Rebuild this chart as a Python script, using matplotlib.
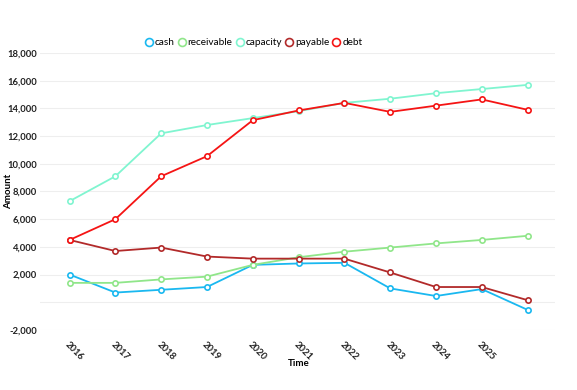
import matplotlib
matplotlib.use("Agg")
import matplotlib.pyplot as plt

years = ["2016", "2017", "2018", "2019", "2020", "2021", "2022", "2023", "2024", "2025", "2026"]
cash = [2000, 700, 900, 1100, 2700, 2800, 2850, 1000, 450, 950, -550]
receivable = [1400, 1400, 1650, 1850, 2700, 3250, 3650, 3950, 4250, 4500, 4800]
capacity = [7300, 9100, 12200, 12800, 13300, 13800, 14400, 14700, 15100, 15400, 15700]
payable = [4500, 3700, 3950, 3300, 3150, 3150, 3150, 2150, 1100, 1100, 150]
debt = [4500, 6000, 9100, 10550, 13150, 13850, 14400, 13750, 14200, 14650, 13900]

series = [("cash", cash, "#1ab8f0"), ("receivable", receivable, "#90e68a"),
          ("capacity", capacity, "#80f5d0"), ("payable", payable, "#b22a2a"),
          ("debt", debt, "#f51414")]

yticks = list(range(-2000, 18001, 2000))
ytick_labels = ["" if v == 0 else f"{v:,}" for v in yticks]

plt.rcParams["font.family"] = ["Lato", "DejaVu Sans"]

fig = plt.figure(figsize=(5.77, 3.9), dpi=100)
ax = fig.add_axes([0.069, 0.154, 0.893, 0.71])

x = list(range(len(years)))
handles = []
for name, vals, col in series:
    h, = ax.plot(x, vals, color=col, lw=1.3, marker="o", ms=3.8,
                 mfc="white", mec=col, mew=1.2, label=name)
    handles.append(h)

ax.set_xlim(-0.65, 10.6)
ax.set_ylim(-2000, 18000)
ax.set_yticks(yticks)
ax.set_yticklabels(ytick_labels, fontsize=6.8, fontweight="bold", color="#222222")
ax.set_xticks(x[:-1])
ax.set_xticklabels(years[:-1], fontsize=6.8, fontweight="bold", color="#222222",
                   rotation=-45, ha="left", va="top", rotation_mode="anchor")
ax.tick_params(length=0, pad=2)
ax.tick_params(axis="x", pad=7)
for s in ax.spines.values():
    s.set_visible(False)
ax.grid(axis="y", color="#eeeeee", lw=0.8)
ax.set_axisbelow(True)

ax.set_ylabel("Amount", fontsize=7, fontweight="bold")
ax.yaxis.set_label_coords(-0.052, 0.5)
ax.set_xlabel("Time", fontsize=7, fontweight="bold")
ax.xaxis.set_label_coords(0.503, -0.105)

fig.legend(handles=handles, loc="center", bbox_to_anchor=(0.44, 0.89), ncol=5,
           frameon=False, fontsize=7.2, handlelength=0.7, handletextpad=0.25,
           columnspacing=0.35, markerscale=1.5)
for lh in fig.legends[0].legend_handles:
    lh.set_linestyle("none")

fig.savefig("out.png", dpi=100)
